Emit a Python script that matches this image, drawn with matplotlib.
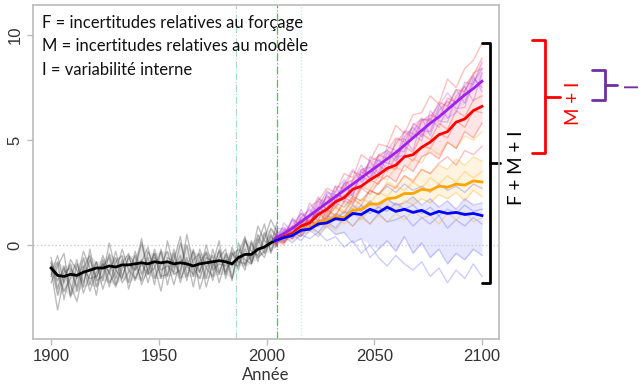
import numpy as np
import matplotlib.pyplot as plt

plt.rcParams['font.family'] = ['Lato', 'DejaVu Sans']

# ---------------- data ----------------
hist_years = np.arange(1900, 2006, 3)
hist_mean = [-1.1, -1.45, -1.5, -1.4, -1.45, -1.3,
             -1.2, -1.1, -1.1, -1.0, -1.05, -0.95,
             -0.95, -0.9, -0.85, -0.9, -0.8, -0.85,
             -0.8, -0.9, -0.85, -0.9, -1.0, -0.9,
             -0.85, -0.8, -0.75, -0.8, -0.9, -0.6,
             -0.45, -0.45, -0.2, -0.1, 0.1, 0.25]
hist_members = [
    [-0.6, -2.1, -1.0, -2.4, -0.9, -1.8, -0.7, -1.6, -0.5, -1.4, -0.3, -1.5,
     -0.6, -1.2, 0.1, -1.3, -0.4, -1.6, 0.2, -1.1, -0.5, -1.7, -0.2, -1.3,
     0.0, -1.1, -0.3, -1.4, -0.1, -0.9, 0.3, -0.7, 0.5, -0.2, 0.8, 0.3],
    [-1.5, -0.8, -2.6, -1.2, -2.0, -0.6, -1.9, -0.8, -1.7, -0.4, -1.6, -0.7,
     -1.8, -0.3, -1.4, -0.6, -1.9, -0.2, -1.5, -0.4, -1.8, -0.6, -2.0, -0.5,
     -1.6, -0.2, -1.3, -0.5, -1.7, 0.1, -1.0, 0.2, -0.8, 0.6, -0.3, 0.7],
    [-1.2, -3.1, -1.6, -0.9, -2.2, -1.1, -0.5, -2.0, -1.0, -0.6, -1.9, -0.9,
     -0.4, -1.7, -0.8, -0.1, -1.6, -0.9, -0.3, -1.4, -1.2, 0.0, -1.5, -0.8,
     -0.4, -1.7, -0.6, -0.2, -1.6, -0.4, 0.4, -0.9, 0.1, 1.0, -0.4, 0.5],
    [-0.9, -1.4, -2.2, -1.6, -0.7, -2.3, -1.4, -0.8, -2.1, -1.2, -0.6, -1.8,
     -1.3, -0.5, -1.9, -1.1, -0.4, -1.5, -1.4, -0.2, -1.6, -1.0, -0.3, -2.1,
     -1.1, -0.5, -1.8, -0.7, -1.0, -0.5, -1.2, 0.1, -0.6, -0.3, 0.5, -0.1],
    [-1.8, -1.0, -0.4, -2.5, -1.5, -1.0, -2.2, -1.3, -0.9, -2.0, -0.8, -0.5,
     -2.1, -1.0, 0.3, -1.4, -1.1, -0.3, -1.9, -0.7, 0.4, -1.5, -0.7, -0.4,
     -2.0, -0.9, 0.2, -1.6, -0.4, -0.8, -0.9, -0.5, 0.9, 0.2, 0.0, 1.1],
    [-1.0, -1.7, -1.1, -1.9, -2.7, -1.2, -1.6, -1.5, -0.9, -1.3, -2.0, -1.1,
     -0.9, -1.2, -0.7, -1.8, -0.6, -0.9, -0.8, -1.9, -0.7, -0.9, -1.1, -1.6,
     -0.6, -0.8, -1.4, -0.4, -0.9, -1.0, -0.2, -0.8, -0.2, -0.6, 0.4, 0.0],
    [-1.4, -0.5, -1.8, -0.7, -1.2, -2.0, -0.2, -1.7, -1.5, 0.1, -1.2, -1.6,
     -0.5, -0.9, -1.7, -0.3, -1.0, -2.2, -0.6, -0.8, -1.4, 0.5, -0.9, -1.3,
     -0.3, -1.2, -0.9, -1.0, -0.3, -1.2, 0.2, -0.3, -0.5, 0.3, 1.2, 0.6],
    [-0.8, -2.4, -1.3, -1.1, -1.6, -0.3, -1.1, -2.4, -0.7, -1.8, -1.3, -0.2,
     -1.2, -1.6, -0.9, -1.4, -0.2, -1.2, -1.0, -1.3, 0.1, -1.0, -1.4, -0.2,
     -1.1, -1.5, -0.2, -1.3, -0.5, -0.2, -0.7, -0.9, 0.3, -0.4, 0.2, 0.4],
]

fut_years = np.arange(2004, 2101, 4)
purple_mean = [0.3, 0.55, 0.8, 1.1, 1.4, 1.7, 2.0, 2.3, 2.6, 2.9, 3.2, 3.5, 3.8,
               4.1, 4.4, 4.75, 5.1, 5.45, 5.8, 6.1, 6.45, 6.8, 7.15, 7.45, 7.8]
red_mean = [0.2, 0.4, 0.55, 0.9, 1.05, 1.45, 1.7, 2.05, 2.25, 2.65, 2.8, 3.1, 3.35,
            3.65, 3.8, 4.2, 4.3, 4.65, 4.9, 5.25, 5.4, 5.85, 6.0, 6.4, 6.6]
orange_mean = [0.2, 0.35, 0.45, 0.75, 0.8, 1.1, 1.15, 1.35, 1.3, 1.65, 1.7, 1.95, 1.95,
               2.2, 2.25, 2.45, 2.45, 2.65, 2.6, 2.8, 2.75, 2.9, 2.85, 3.05, 3.0]
blue_mean = [0.2, 0.35, 0.45, 0.7, 0.75, 1.0, 1.05, 1.25, 1.2, 1.5, 1.45, 1.7, 1.55,
             1.8, 1.6, 1.7, 1.55, 1.65, 1.45, 1.6, 1.5, 1.55, 1.45, 1.5, 1.4]

purple_members = [
    [0.6, 0.15, 1.3, 0.8, 2.0, 1.5, 2.4, 1.8, 2.9, 3.6, 3.0, 4.0, 3.4,
     4.7, 4.5, 4.45, 5.8, 5.45, 5.4, 6.6, 7.25, 6.7, 7.75, 7.65, 8.7],
    [-0.1, 1.05, 0.6, 1.7, 0.9, 2.1, 1.7, 2.8, 2.0, 3.1, 3.8, 3.1, 4.1,
     3.6, 5.0, 5.05, 4.5, 5.95, 6.0, 5.6, 6.55, 7.4, 6.75, 7.95, 7.5],
    [0.4, 0.85, 0.3, 1.3, 1.7, 1.1, 2.5, 2.4, 2.3, 2.4, 3.6, 3.7, 3.2,
     4.4, 4.0, 5.45, 5.3, 4.95, 6.4, 5.9, 5.85, 7.1, 7.55, 6.85, 8.2],
    [0.1, 0.45, 1.2, 0.5, 1.5, 2.3, 1.6, 2.6, 3.1, 2.7, 2.7, 4.2, 4.0,
     3.9, 3.8, 5.15, 5.6, 5.15, 6.1, 6.7, 6.05, 6.3, 7.35, 8.05, 7.3],
    [0.8, 0.75, 0.5, 1.5, 1.1, 1.8, 2.6, 2.1, 3.0, 2.3, 3.5, 3.2, 4.3,
     4.5, 4.2, 4.25, 5.4, 6.05, 5.2, 6.4, 6.85, 6.5, 6.55, 7.75, 8.4],
]
red_members = [
    [0.5, 0.4, 1.2, 1.0, 1.8, 2.1, 2.7, 2.5, 3.4, 3.2, 4.3, 4.0, 4.8,
     4.7, 5.7, 5.3, 6.2, 6.3, 7.1, 6.7, 7.9, 7.5, 8.4, 8.8, 9.6],
    [0.1, 0.7, 0.9, 1.5, 1.3, 2.2, 2.0, 2.8, 2.7, 3.5, 3.3, 4.0, 4.2,
     4.5, 5.1, 4.9, 5.7, 6.0, 5.9, 6.8, 6.6, 7.4, 7.3, 8.2, 8.4],
    [0.3, 0.0, 0.8, 1.1, 0.9, 1.8, 1.5, 2.4, 2.2, 2.6, 3.3, 3.0, 3.8,
     3.5, 4.2, 4.7, 4.4, 5.3, 5.0, 5.8, 5.5, 6.4, 6.1, 6.9, 7.1],
    [-0.1, 0.5, 0.3, 0.9, 1.2, 0.9, 1.7, 1.4, 2.1, 1.9, 2.7, 2.4, 3.0,
     3.3, 3.0, 3.8, 3.5, 4.2, 4.4, 4.1, 4.9, 4.6, 5.4, 5.1, 5.8],
    [0.4, 0.1, 0.6, 0.4, 1.1, 1.0, 1.3, 1.8, 1.5, 2.2, 1.9, 2.6, 2.4,
     2.9, 2.7, 3.3, 3.0, 3.6, 3.4, 3.9, 4.2, 3.8, 4.5, 4.3, 4.7],
    [0.0, 0.6, 0.5, 1.3, 1.1, 1.7, 2.3, 2.1, 2.9, 3.1, 3.6, 3.4, 4.3,
     4.1, 4.8, 5.4, 5.1, 5.9, 6.2, 6.0, 7.0, 6.8, 7.6, 8.1, 8.9],
    [0.3, 0.3, 0.9, 0.6, 1.4, 1.5, 1.2, 2.1, 2.3, 2.0, 2.8, 3.1, 2.9,
     3.7, 3.6, 4.3, 4.0, 4.7, 4.6, 5.3, 5.1, 5.9, 5.6, 6.4, 6.3],
]
orange_members = [
    [0.4, 0.2, 0.9, 0.7, 1.4, 1.2, 1.9, 1.7, 2.4, 2.2, 2.8, 2.6, 3.3,
     3.1, 3.7, 3.5, 4.1, 3.9, 4.6, 4.3, 4.9, 4.6, 5.2, 5.0, 5.4],
    [0.0, 0.6, 0.4, 1.0, 0.8, 1.5, 1.3, 1.9, 1.6, 2.3, 2.1, 2.6, 2.4,
     3.0, 2.8, 3.3, 3.1, 3.6, 3.4, 3.8, 3.6, 4.1, 3.8, 4.2, 4.0],
    [0.3, 0.1, 0.7, 0.5, 0.6, 1.1, 0.8, 1.3, 1.0, 1.5, 1.2, 1.7, 1.5,
     1.9, 1.6, 2.1, 1.9, 2.2, 2.0, 2.4, 2.2, 2.5, 2.1, 2.6, 2.3],
    [0.1, 0.4, 0.2, 0.6, 0.8, 0.5, 1.0, 0.7, 1.2, 0.9, 1.3, 1.0, 1.4,
     1.1, 1.5, 1.2, 1.6, 1.3, 1.4, 1.0, 1.5, 1.2, 1.6, 1.1, 1.3],
    [0.5, 0.3, 0.5, 1.0, 1.2, 0.9, 1.6, 1.4, 2.0, 1.7, 2.2, 2.0, 2.5,
     2.3, 2.8, 2.6, 3.0, 2.7, 3.2, 2.9, 3.3, 3.0, 3.5, 3.2, 3.5],
]
blue_members = [
    [0.4, 0.7, 0.6, 1.2, 1.0, 1.6, 1.4, 2.0, 1.8, 2.3, 2.1, 2.6, 2.4,
     2.8, 2.5, 2.9, 2.6, 2.8, 2.5, 2.9, 2.6, 2.8, 2.5, 2.9, 2.7],
    [0.0, 0.5, 0.3, 0.9, 0.7, 1.2, 1.0, 1.5, 1.3, 1.9, 1.6, 2.1, 1.8,
     2.2, 1.9, 2.0, 2.3, 1.9, 2.2, 1.8, 2.1, 1.7, 2.2, 1.9, 2.0],
    [0.3, 0.1, 0.6, 0.4, 0.9, 0.6, 1.1, 0.8, 1.3, 0.9, 1.4, 1.0, 1.5,
     1.1, 1.2, 1.4, 0.9, 1.3, 1.0, 1.4, 0.8, 1.2, 0.9, 1.3, 1.0],
    [0.2, 0.4, 0.1, 0.5, 0.3, 0.6, 0.2, 0.4, -0.1, 0.2, -0.4, 0.0, -0.6,
     -1.0, -0.5, -0.9, -1.2, -0.8, -1.5, -1.1, -1.8, -1.2, -1.6, -0.9, -1.5],
    [0.1, 0.3, 0.5, 0.2, 0.7, 0.4, 0.9, 0.5, 0.6, 0.1, 0.3, -0.6, -0.2,
     0.2, -0.3, 0.4, -0.4, 0.1, -0.6, -0.2, -0.9, -0.4, -0.7, -0.2, -0.5],
    [0.5, 0.2, 0.8, 0.6, 1.1, 0.9, 1.4, 1.2, 1.6, 1.4, 1.9, 1.5, 1.8,
     1.6, 2.0, 1.7, 1.9, 1.5, 1.8, 1.4, 1.7, 1.5, 1.9, 1.6, 1.7],
]

legend_lines = ['F = incertitudes relatives au forçage',
                'M = incertitudes relatives au modèle',
                'I = variabilité interne']

# ---------------- figure ----------------
fig = plt.figure(figsize=(6.43, 3.9), dpi=100)
ax = fig.add_axes([33 / 643, 1 - 339 / 390, 466 / 643, 334 / 390])

ax.axhline(0, color='#cccccc', ls=':', lw=1)
ax.axvline(1986, color='#a8dcc8', ls='-.', lw=0.8)
ax.axvline(2005, color='#4cc44c', ls='-.', lw=0.9)
ax.axvline(2016, color='#c4ecec', ls=':', lw=0.9)

# historique
hist_arr = np.sort(np.array(hist_members), axis=0)
ax.fill_between(hist_years, hist_arr[1], hist_arr[-2],
                color='#555555', alpha=0.15, lw=0)
for m in hist_members:
    ax.plot(hist_years, m, color='#444444', alpha=0.35, lw=1)
ax.plot(hist_years, hist_mean, color='black', lw=2)

# scenarios (enveloppes + membres)
for members, col, a in [(blue_members, '#3a3aff', 0.25),
                        (orange_members, '#ffa500', 0.3),
                        (red_members, '#ff3030', 0.3),
                        (purple_members, '#a040f0', 0.3)]:
    arr = np.sort(np.array(members), axis=0)
    ax.fill_between(fut_years, arr[1], arr[-2],
                    color=col, alpha=0.12, lw=0)
    for m in members:
        ax.plot(fut_years, m, color=col, alpha=a, lw=1)

ax.plot(fut_years, purple_mean, color='#a020f0', lw=2)
ax.plot(fut_years, red_mean, color='red', lw=2)
ax.plot(fut_years, orange_mean, color='#ffa500', lw=2)
ax.plot(fut_years, blue_mean, color='blue', lw=2)

ax.set_xlim(1891.6, 2107.9)
ax.set_ylim(-4.48, 11.43)
ax.set_xticks([1900, 1950, 2000, 2050, 2100])
ax.set_yticks([0, 5, 10])
for s in ax.spines.values():
    s.set_color('#bbbbbb')
    s.set_linewidth(1.2)
ax.tick_params(colors='#bbbbbb', labelcolor='#333333', length=4, width=1)
for lab in ax.get_xticklabels() + ax.get_yticklabels():
    lab.set_family('Liberation Sans')
    lab.set_fontsize(12)
plt.setp(ax.get_yticklabels(), rotation=90, va='center')
ax.set_xlabel('Année', fontsize=12, color='#333333', labelpad=2)

for i, t in enumerate(legend_lines):
    ax.text(0.019, 0.946 - i * 0.07, t, transform=ax.transAxes,
            fontsize=12, va='center', ha='left', color='#111111')


def bracket(x0, x1, x2, y0, y1, color, lw=2):
    ym = (y0 + y1) / 2
    ax.plot([x0, x1, x1, x0], [y1, y1, y0, y0], color=color, lw=lw,
            clip_on=False, solid_joinstyle='round', solid_capstyle='round')
    ax.plot([x1, x2], [ym, ym], color=color, lw=lw, clip_on=False,
            solid_capstyle='round')


bracket(2100, 2103.7, 2108.4, -1.81, 9.62, 'black')
ax.text(2116.0, 3.67, 'F + M + I', rotation=90, fontsize=13.5, ha='center',
        va='center', color='black')
bracket(2123.2, 2129.2, 2136.2, 4.38, 9.76, 'red')
ax.text(2142.3, 6.76, 'M + I', rotation=90, fontsize=13.5, ha='center',
        va='center', color='red')
bracket(2151.0, 2157.1, 2162.6, 6.9, 8.33, '#7030a0')
ax.text(2169.6, 7.62, 'I', rotation=90, fontsize=13.5, ha='center',
        va='center', color='#7030a0')

fig.savefig('out.png', dpi=100)
